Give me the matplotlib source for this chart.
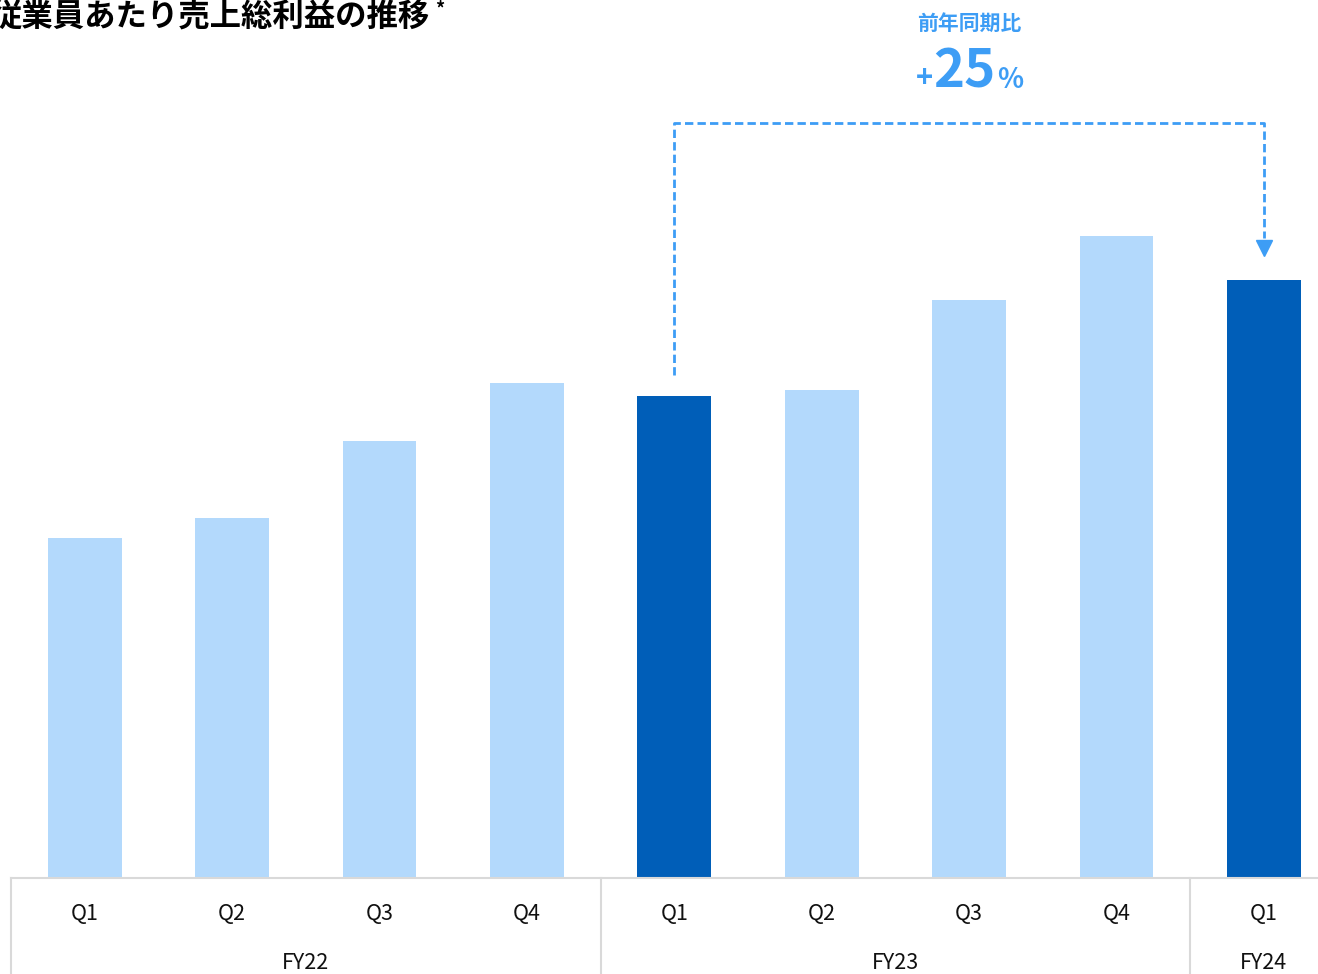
import matplotlib
matplotlib.use("Agg")
import matplotlib.pyplot as plt
import matplotlib.transforms as mtransforms
import numpy as np

plt.rcParams['font.family'] = ['Noto Sans CJK JP', 'DejaVu Sans']

# data (relative values)
quarters = ["Q1", "Q2", "Q3", "Q4", "Q1", "Q2", "Q3", "Q4", "Q1"]
values = [340, 360, 437, 495, 482, 488, 578, 642, 598]
highlight = [False, False, False, False, True, False, False, False, True]
years = ["FY22", "FY23", "FY24"]
year_sizes = [4, 4, 1]
yoy_label = "前年同期比"
yoy_value = "25"

c_light = "#b3d9fc"
c_dark = "#005eb8"
c_note = "#3d9df5"
c_grid = "#d9d9d9"

W, H = 1318, 974
fig = plt.figure(figsize=(W / 100, H / 100), dpi=100)

n = len(values)
step = 147.4
left_px = 11
base_px = 878
ax = fig.add_axes([left_px / W, (H - base_px) / H, n * step / W, base_px / H])

x = np.arange(n)
colors = [c_dark if h else c_light for h in highlight]
ax.bar(x, values, width=0.5, color=colors, zorder=2)

ax.set_xlim(-0.5, n - 0.5)
ax.set_ylim(0, base_px)
for s in ["top", "right", "left"]:
    ax.spines[s].set_visible(False)
ax.spines["bottom"].set_color(c_grid)
ax.spines["bottom"].set_linewidth(1.5)
ax.set_yticks([])
ax.set_xticks(x)
ax.set_xticklabels(quarters, fontsize=15.5, color="#111111")
ax.tick_params(axis="x", length=0, pad=18)

# year groups
trans = mtransforms.blended_transform_factory(ax.transData, ax.transAxes)
start = -0.5
for yr, sz in zip(years, year_sizes):
    ax.plot([start, start], [0, -96 / base_px], color=c_grid, lw=1.5,
            transform=trans, clip_on=False)
    ax.text(start + sz / 2, -85 / base_px, yr, transform=trans, ha="center",
            va="center", fontsize=15.5, color="#111111")
    start += sz

# year-over-year bracket
i0, i1 = 4, 8
top = max(values) * 1.176
ax.plot([i0, i0, i1, i1], [values[i0] + 21, top, top, values[i1] + 42],
        color=c_note, lw=2, ls=(0, (3, 1.5)), clip_on=False, zorder=3)
ax.plot([i1], [values[i1] + 32], marker="v", color=c_note, markersize=11,
        clip_on=False, zorder=3)

xm = (i0 + i1) / 2
ax.text(xm, base_px - 23, yoy_label, ha="center", va="center", fontsize=15,
        fontweight="bold", color=c_note)
yb = base_px - 87
ax.annotate(yoy_value, (xm, yb), xytext=(-5, 0), textcoords="offset pixels",
            ha="center", va="baseline", fontsize=38, fontweight="bold", color=c_note)
ax.annotate("+", (xm, yb), xytext=(-45, 0), textcoords="offset pixels",
            ha="center", va="baseline", fontsize=21, fontweight="bold", color=c_note)
ax.annotate("%", (xm, yb), xytext=(41, -1), textcoords="offset pixels",
            ha="center", va="baseline", fontsize=19.5, fontweight="bold", color=c_note)

# title (cut off at the left edge as in the source)
fig.text(-9 / W, 1 - 18 / H, "従業員あたり売上総利益の推移", ha="left", va="center",
         fontsize=22.6, fontweight="bold", color="#000000")
fig.text(435 / W, 1 - 9 / H, "*", ha="left", va="center", fontsize=13,
         fontweight="bold", color="#000000")

fig.savefig("out.png", dpi=100)
